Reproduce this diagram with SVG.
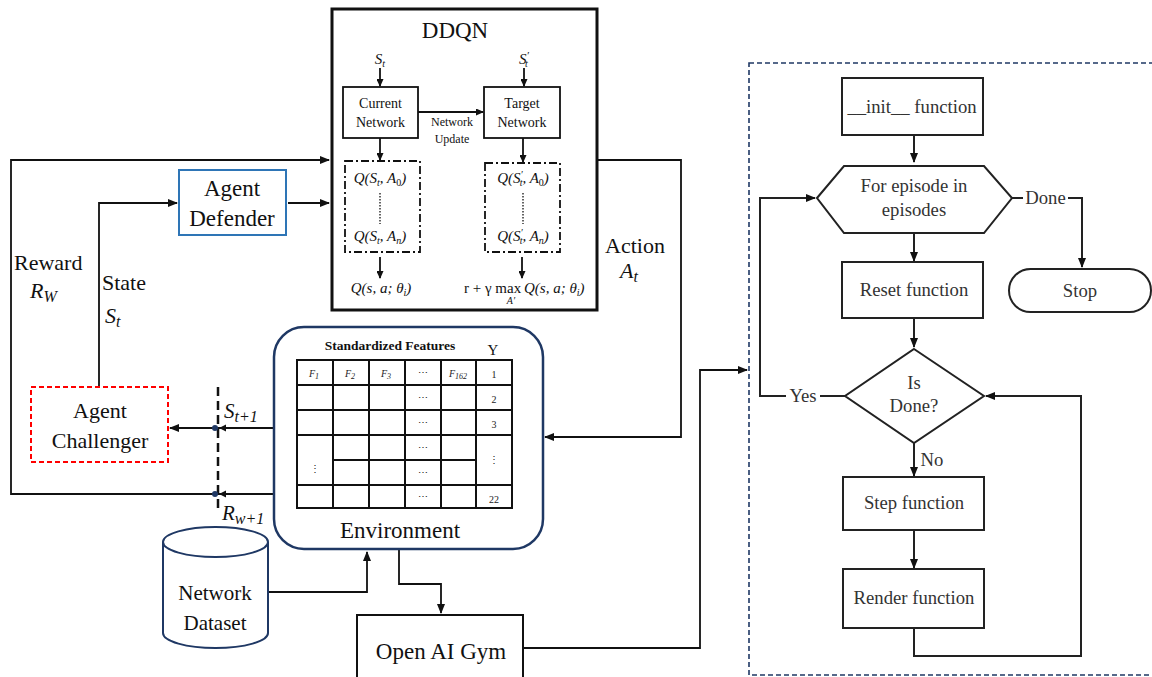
<svg xmlns="http://www.w3.org/2000/svg" width="1152" height="677" viewBox="0 0 1152 677">
<style>
.t{fill:#111}
.m{font-style:italic;fill:#111}
.ln{fill:none;stroke:#111;stroke-width:1.8}
.fc{fill:none;stroke:#222;stroke-width:2}
.ft{fill:#333;font-size:18.7px;text-anchor:middle}
.cell{fill:none;stroke:#111;stroke-width:2}
.ct{font-size:10px;text-anchor:middle;fill:#222}
</style>
<defs>
<marker id="ah" markerWidth="10" markerHeight="8" refX="9" refY="4" orient="auto" markerUnits="userSpaceOnUse">
<path d="M0,0 L10,4 L0,8 Z" fill="#111"/>
</marker>
<marker id="ahs" markerWidth="8" markerHeight="7" refX="7" refY="3.5" orient="auto" markerUnits="userSpaceOnUse">
<path d="M0,0 L8,3.5 L0,7 Z" fill="#111"/>
</marker>
</defs>
<rect width="1152" height="677" fill="#fff"/>
<g font-family="'Liberation Serif', 'DejaVu Serif', 'Times New Roman', serif">

<g id="connectors">
<path class="ln" d="M274,494 H11 V160 H329" marker-end="url(#ah)"/>
<path class="ln" d="M274,428 H170" marker-end="url(#ah)"/>
<path class="ln" d="M99,387 V203 H177" marker-end="url(#ah)"/>
<path class="ln" d="M288,203 H329" marker-end="url(#ah)"/>
<path class="ln" d="M597,160 H681 V437 H545" marker-end="url(#ah)"/>
<path class="ln" d="M268,592 H367 V552" marker-end="url(#ah)"/>
<path class="ln" d="M399,550 V584 H441 V613" marker-end="url(#ah)"/>
<path class="ln" d="M523,648 H700 V370 H747" marker-end="url(#ah)"/>
<line x1="218" y1="387" x2="218" y2="513" stroke="#111" stroke-width="2.5" stroke-dasharray="9,5"/>
<circle cx="215" cy="428" r="3" fill="#1f3864"/>
<circle cx="215" cy="494" r="3" fill="#1f3864"/>
<path d="M226,424.5 L219,428 L226,431.5 Z" fill="#111"/>
<path d="M226,490.5 L219,494 L226,497.5 Z" fill="#111"/>
</g>

<g id="labels">
<text class="t" x="14" y="270" font-size="22">Reward</text>
<text class="m" x="30" y="298" font-size="22">R<tspan font-size="16" dy="4">W</tspan></text>
<text class="t" x="102" y="290" font-size="22">State</text>
<text class="m" x="105" y="323" font-size="22">S<tspan font-size="16" dy="4">t</tspan></text>
<text class="t" x="605" y="253" font-size="22">Action</text>
<text class="m" x="620" y="278" font-size="22">A<tspan font-size="16" dy="4">t</tspan></text>
<text class="m" x="224" y="418" font-size="21">S<tspan font-size="16" dy="4">t+1</tspan></text>
<text class="m" x="222" y="520" font-size="21">R<tspan font-size="16" dy="4">w+1</tspan></text>
</g>

<g id="ddqn">
<rect x="332" y="9" width="265" height="301" fill="none" stroke="#111" stroke-width="3"/>
<text class="t" x="455" y="38" font-size="23" text-anchor="middle">DDQN</text>
<text class="m" x="380" y="64" font-size="15" text-anchor="middle">S<tspan font-size="10" dy="3">t</tspan></text>
<text class="m" x="524" y="64" font-size="15" text-anchor="middle">S<tspan font-size="11" dy="-5">′</tspan><tspan font-size="10" dx="-4" dy="8">t</tspan></text>
<path class="ln" d="M380,68 V86" marker-end="url(#ahs)"/>
<path class="ln" d="M524,68 V86" marker-end="url(#ahs)"/>
<rect x="343" y="87" width="75" height="51" fill="none" stroke="#111" stroke-width="1.8"/>
<text class="t" x="380.5" y="108" font-size="14" text-anchor="middle">Current</text>
<text class="t" x="380.5" y="127" font-size="14" text-anchor="middle">Network</text>
<rect x="484" y="87" width="76" height="51" fill="none" stroke="#111" stroke-width="1.8"/>
<text class="t" x="522" y="108" font-size="14" text-anchor="middle">Target</text>
<text class="t" x="522" y="127" font-size="14" text-anchor="middle">Network</text>
<path class="ln" d="M418,112 H483" marker-end="url(#ahs)"/>
<text class="t" x="452" y="126" font-size="12" text-anchor="middle">Network</text>
<text class="t" x="452" y="143" font-size="12" text-anchor="middle">Update</text>
<path class="ln" d="M380,138 V160" marker-end="url(#ahs)"/>
<path class="ln" d="M523,138 V162" marker-end="url(#ahs)"/>
<rect x="345" y="161" width="75" height="91" fill="none" stroke="#111" stroke-width="1.8" stroke-dasharray="8,3,2,3"/>
<rect x="485" y="163" width="75" height="89" fill="none" stroke="#111" stroke-width="1.8" stroke-dasharray="8,3,2,3"/>
<text class="m" x="380" y="183" font-size="15" text-anchor="middle">Q(S<tspan font-size="10" dy="3">t</tspan><tspan dy="-3">, A</tspan><tspan font-size="10" dy="3" font-style="normal">0</tspan><tspan dy="-3">)</tspan></text>
<text class="m" x="380" y="241" font-size="15" text-anchor="middle">Q(S<tspan font-size="10" dy="3">t</tspan><tspan dy="-3">, A</tspan><tspan font-size="10" dy="3">n</tspan><tspan dy="-3">)</tspan></text>
<text class="m" x="523" y="183" font-size="15" text-anchor="middle">Q(S<tspan font-size="10" dy="-5">′</tspan><tspan font-size="10" dx="-3" dy="8">t</tspan><tspan dy="-3">, A</tspan><tspan font-size="10" dy="3" font-style="normal">0</tspan><tspan dy="-3">)</tspan></text>
<text class="m" x="523" y="241" font-size="15" text-anchor="middle">Q(S<tspan font-size="10" dy="-5">′</tspan><tspan font-size="10" dx="-3" dy="8">t</tspan><tspan dy="-3">, A</tspan><tspan font-size="10" dy="3">n</tspan><tspan dy="-3">)</tspan></text>
<line x1="380" y1="193" x2="380" y2="224" stroke="#111" stroke-width="1.3" stroke-dasharray="1.5,1.5"/>
<line x1="523" y1="193" x2="523" y2="224" stroke="#111" stroke-width="1.3" stroke-dasharray="1.5,1.5"/>
<path class="ln" d="M380,257 V278" marker-end="url(#ahs)"/>
<path class="ln" d="M522,257 V278" marker-end="url(#ahs)"/>
<text class="m" x="381" y="293" font-size="15" text-anchor="middle">Q(s, a; θ<tspan font-size="10" dy="3">i</tspan><tspan dy="-3">)</tspan></text>
<text class="t" x="464" y="293" font-size="15">r + γ max</text>
<text class="m" x="524" y="293" font-size="15">Q(s, a; θ<tspan font-size="10" dy="3">i</tspan><tspan dy="-3">)</tspan></text>
<text class="m" x="511" y="304" font-size="10" text-anchor="middle">A′</text>
</g>

<g id="agent-defender">
<rect x="179" y="170" width="107" height="65" fill="#fff" stroke="#2e75b6" stroke-width="2"/>
<text class="t" x="232" y="196" font-size="23" text-anchor="middle">Agent</text>
<text class="t" x="232" y="226" font-size="23" text-anchor="middle">Defender</text>
</g>

<g id="agent-challenger">
<rect x="31" y="387" width="137" height="75" fill="#fff" stroke="#ff0000" stroke-width="2" stroke-dasharray="5,3"/>
<text class="t" x="100" y="418" font-size="22" text-anchor="middle">Agent</text>
<text class="t" x="100" y="448" font-size="22" text-anchor="middle">Challenger</text>
</g>

<g id="environment">
<rect x="274" y="327" width="269" height="222" rx="30" fill="#fff" stroke="#1f3864" stroke-width="2.5"/>
<text class="t" x="390" y="350" font-size="13.5" font-weight="bold" text-anchor="middle" fill="#222">Standardized Features</text>
<text class="t" x="493" y="355" font-size="15" text-anchor="middle">Y</text>
<rect class="cell" x="297" y="360" width="215" height="148"/>
<line class="cell" x1="333" y1="360" x2="333" y2="508"/>
<line class="cell" x1="369" y1="360" x2="369" y2="508"/>
<line class="cell" x1="405" y1="360" x2="405" y2="508"/>
<line class="cell" x1="441" y1="360" x2="441" y2="508"/>
<line class="cell" x1="476" y1="360" x2="476" y2="508"/>
<line class="cell" x1="297" y1="385" x2="512" y2="385"/>
<line class="cell" x1="297" y1="410" x2="512" y2="410"/>
<line class="cell" x1="297" y1="435" x2="512" y2="435"/>
<line class="cell" x1="333" y1="460" x2="476" y2="460"/>
<line class="cell" x1="297" y1="485" x2="512" y2="485"/>
<text class="ct" x="314" y="377" font-style="italic" font-size="11">F<tspan font-size="8" dy="2">1</tspan></text>
<text class="ct" x="350" y="377" font-style="italic" font-size="11">F<tspan font-size="8" dy="2">2</tspan></text>
<text class="ct" x="386" y="377" font-style="italic" font-size="11">F<tspan font-size="8" dy="2">3</tspan></text>
<text class="ct" x="423" y="376">⋯</text>
<text class="ct" x="458" y="377" font-style="italic" font-size="11">F<tspan font-size="8" dy="2">162</tspan></text>
<text class="ct" x="494" y="378" font-size="12">1</text>
<text class="ct" x="423" y="401">⋯</text>
<text class="ct" x="494" y="403" font-size="12">2</text>
<text class="ct" x="423" y="426">⋯</text>
<text class="ct" x="494" y="428" font-size="12">3</text>
<text class="ct" x="423" y="451">⋯</text>
<text class="ct" x="423" y="476">⋯</text>
<text class="ct" x="315" y="472">⋮</text>
<text class="ct" x="494" y="463">⋮</text>
<text class="ct" x="423" y="500">⋯</text>
<text class="ct" x="494" y="503" font-size="12">22</text>
<text class="t" x="400" y="538" font-size="23" text-anchor="middle">Environment</text>
</g>

<g id="network-dataset">
<path d="M163,542 V633 A52.5,15 0 0 0 268,633 V542" fill="#fff" stroke="#1f3864" stroke-width="2"/>
<ellipse cx="215.5" cy="542" rx="52.5" ry="15" fill="#fff" stroke="#1f3864" stroke-width="2"/>
<text class="t" x="215" y="600" font-size="21" text-anchor="middle">Network</text>
<text class="t" x="215" y="630" font-size="21" text-anchor="middle">Dataset</text>
</g>

<g id="open-ai-gym">
<rect x="357" y="615" width="166" height="75" fill="#fff" stroke="#111" stroke-width="2"/>
<text class="t" x="441" y="659" font-size="23" text-anchor="middle">Open AI Gym</text>
</g>

<g id="flowchart">
<rect x="749" y="63" width="410" height="612" fill="none" stroke="#1f3864" stroke-width="1.6" stroke-dasharray="5,3"/>
<g id="flow-edges">
<path class="fc" d="M914,135 V162" marker-end="url(#ah)"/>
<path class="fc" d="M914,233 V261" marker-end="url(#ah)"/>
<path class="fc" d="M914,318 V347" marker-end="url(#ah)"/>
<path class="fc" d="M914,443 V476" marker-end="url(#ah)"/>
<path class="fc" d="M914,530 V568" marker-end="url(#ah)"/>
<path class="fc" d="M1012,198 H1023"/>
<path class="fc" d="M1068,198 H1082 V267" marker-end="url(#ah)"/>
<path class="fc" d="M845,396 H820"/>
<path class="fc" d="M786,396 H760 V198 H815" marker-end="url(#ah)"/>
<path class="fc" d="M914,628 V656 H1081 V396 H986" marker-end="url(#ah)"/>
</g>
<g id="init"><rect class="fc" x="842" y="78" width="141" height="57"/><text class="ft" x="912" y="113">__init__ function</text></g>
<g id="for-episode"><polygon class="fc" points="817,198 844,166 984,166 1012,198 984,233 844,233"/><text class="ft" x="914" y="192">For episode in</text><text class="ft" x="914" y="216">episodes</text></g>
<text class="ft" x="1045.5" y="204">Done</text>
<g id="stop"><rect class="fc" x="1009" y="269" width="142" height="43" rx="21.5"/><text class="ft" x="1080" y="297">Stop</text></g>
<g id="reset"><rect class="fc" x="842" y="262" width="141" height="56"/><text class="ft" x="914" y="296">Reset function</text></g>
<g id="is-done"><polygon class="fc" points="914,349 984,396 914,443 845,396"/><text class="ft" x="914" y="389">Is</text><text class="ft" x="914" y="412">Done?</text></g>
<text class="ft" x="803" y="402">Yes</text>
<text class="ft" x="932" y="466">No</text>
<g id="step"><rect class="fc" x="843" y="477" width="141" height="53"/><text class="ft" x="914" y="509">Step function</text></g>
<g id="render"><rect class="fc" x="843" y="569" width="141" height="59"/><text class="ft" x="914" y="604">Render function</text></g>
</g>
</g>
</svg>
